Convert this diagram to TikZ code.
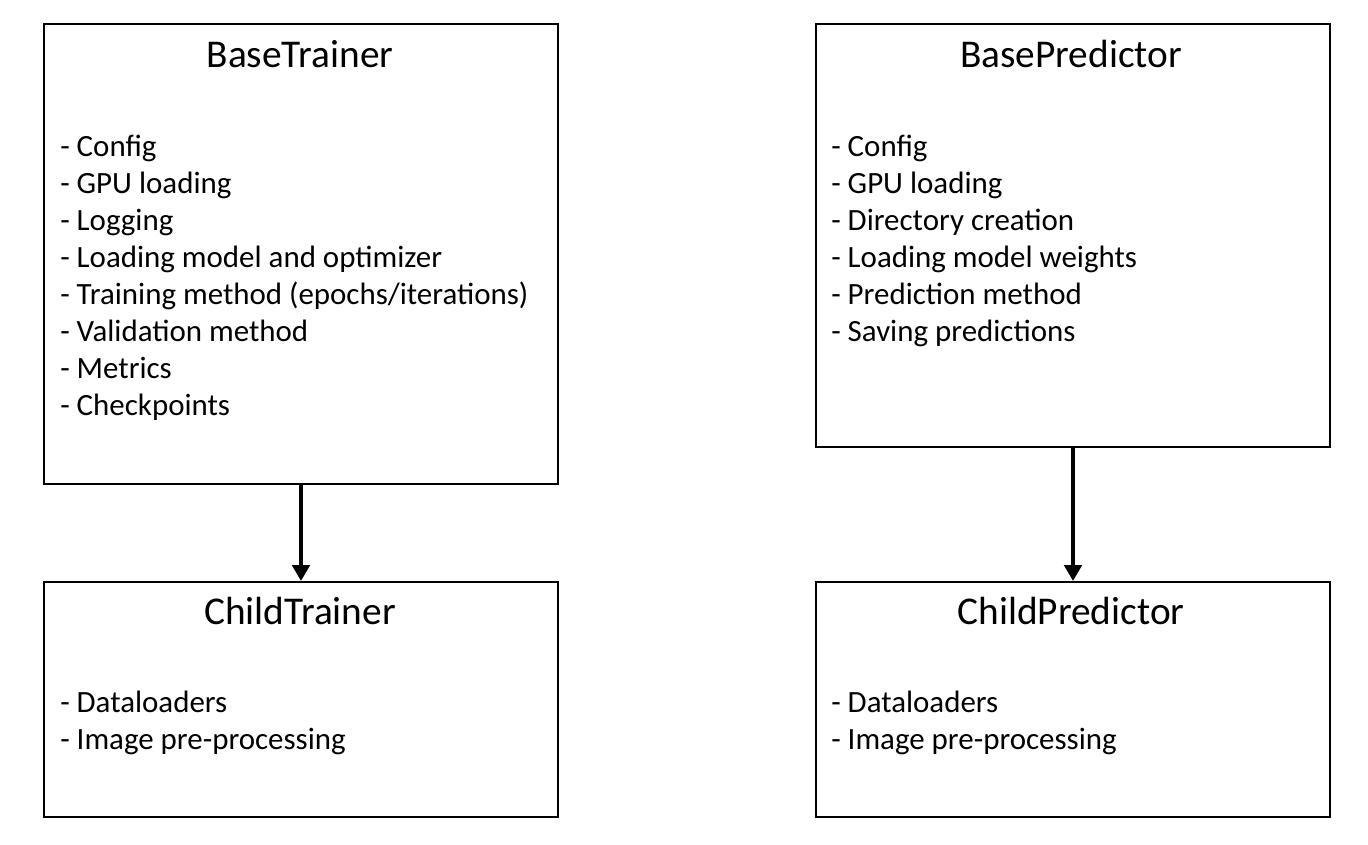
\documentclass[tikz,border=0pt]{standalone}
\usepackage{fontspec}
\setmainfont{Carlito}
\usetikzlibrary{arrows.meta,positioning}

\begin{document}
\begin{tikzpicture}[x=0.75pt,y=-0.75pt,
    classbox/.style={rectangle, draw, line width=1.5pt, anchor=north west, minimum width=385.5pt, inner sep=0pt},
    classtitle/.style={anchor=base, inner sep=0pt, font=\fontsize{29.5}{35}\selectfont},
    classitems/.style={anchor=base west, inner sep=0pt, align=left, font=\fontsize{23.2}{27.8}\selectfont},
    inherit/.style={line width=3pt, -{Triangle[width=13pt,length=12pt]}}]
    \useasboundingbox (0,0) rectangle (1368,844);

    % boxes
    \node (basetrainer) [classbox, minimum height=345pt] at (43,23) {};
    \node (childtrainer) [classbox, minimum height=176.25pt] at (43,581) {};
    \node (basepredictor) [classbox, minimum height=317.25pt] at (815,23) {};
    \node (childpredictor) [classbox, minimum height=176.25pt] at (815,581) {};

    % titles
    \node (basetrainertitle) [classtitle] at (300,67) {BaseTrainer};
    \node (childtrainertitle) [classtitle] at (300,624) {ChildTrainer};
    \node (basepredictortitle) [classtitle] at (1071,67) {BasePredictor};
    \node (childpredictortitle) [classtitle] at (1071,624) {ChildPredictor};

    % contents (anchored at the baseline of the last line)
    \node (basetraineritems) [classitems] at (60,415.5) {- Config\\- GPU loading\\- Logging\\- Loading model and optimizer\\- Training method (epochs/iterations)\\- Validation method\\- Metrics\\- Checkpoints};
    \node (childtraineritems) [classitems] at (60,749.5) {- Dataloaders\\- Image pre-processing};
    \node (basepredictoritems) [classitems] at (831,341.5) {- Config\\- GPU loading\\- Directory creation\\- Loading model weights\\- Prediction method\\- Saving predictions};
    \node (childpredictoritems) [classitems] at (831,749.5) {- Dataloaders\\- Image pre-processing};

    \draw[inherit] (basetrainer.south) -- (childtrainer.north);
    \draw[inherit] (basepredictor.south) -- (childpredictor.north);
\end{tikzpicture}
\end{document}
